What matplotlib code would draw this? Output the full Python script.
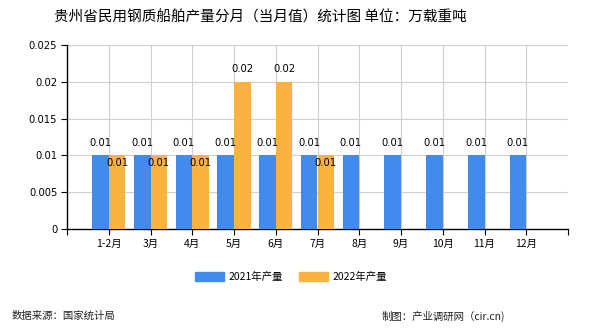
import matplotlib
matplotlib.use("Agg")
import matplotlib.pyplot as plt
import numpy as np
from matplotlib.patches import Patch

plt.rcParams['font.family'] = ['Noto Sans CJK SC', 'DejaVu Sans']

categories = ["1-2月", "3月", "4月", "5月", "6月", "7月", "8月", "9月", "10月", "11月", "12月"]
values_2021 = [0.01, 0.01, 0.01, 0.01, 0.01, 0.01, 0.01, 0.01, 0.01, 0.01, 0.01]
values_2022 = [0.01, 0.01, 0.01, 0.02, 0.02, 0.01]
series_names = ["2021年产量", "2022年产量"]
yticks = [0, 0.005, 0.01, 0.015, 0.02, 0.025]
ytick_labels = ["0", "0.005", "0.01", "0.015", "0.02", "0.025"]

c_blue = "#428BEC"
c_orange = "#FCB241"

fig = plt.figure(figsize=(5.9, 3.3), dpi=100)
ax = fig.add_axes([67/590, 1-229/330, (568-67)/590, (229-45)/330])

x = np.arange(len(categories))
w = 0.4
ax.bar(x[:len(values_2021)] - w/2, values_2021, width=w, color=c_blue, zorder=3)
ax.bar(x[:len(values_2022)] + w/2, values_2022, width=w, color=c_orange, zorder=3)

lab_font = dict(family=['DejaVu Sans'], fontsize=7.2, color='black')
for i, v in enumerate(values_2021):
    ax.annotate(f"{v:g}", (x[i] - w/2, v), xytext=(0, 12), textcoords='offset pixels',
                ha='center', va='center', zorder=5, **lab_font)
for i, v in enumerate(values_2022):
    if i < len(values_2021) and abs(values_2021[i] - v) < 1e-12:
        off = -8
    else:
        off = 13
    ax.annotate(f"{v:g}", (x[i] + w/2, v), xytext=(0, off), textcoords='offset pixels',
                ha='center', va='center', zorder=5, **lab_font)

ax.set_xlim(-1, len(categories))
ax.set_ylim(0, 0.025)
ax.set_yticks(yticks)
ax.set_yticklabels(ytick_labels, fontsize=7.2, family=['DejaVu Sans'])
ax.set_xticks(x)
ax.set_xticklabels(categories, fontsize=7.5)
ax.set_xticks([-1, len(categories)], minor=True)

# gridlines
for yv in yticks[1:]:
    ax.axhline(yv, color='#d0d0d0', lw=0.8, zorder=1)
for xv in list(x) + [len(categories)]:
    ax.axvline(xv, color='#d0d0d0', lw=0.8, zorder=1)

for s in ['top', 'right']:
    ax.spines[s].set_visible(False)
ax.spines['left'].set_color('black')
ax.spines['bottom'].set_color('black')
ax.spines['left'].set_linewidth(1)
ax.spines['bottom'].set_linewidth(1)
ax.tick_params(axis='both', which='both', length=4, width=0.8, color='black', pad=3)

fig.text(260/590, 1-17/330, "贵州省民用钢质船舶产量分月（当月值）统计图 单位：万载重吨",
         ha='center', va='center', fontsize=10.5)

handles = [Patch(color=c_blue, label=series_names[0]), Patch(color=c_orange, label=series_names[1])]
fig.legend(handles=handles, loc='center', bbox_to_anchor=(291/590, 1-277/330), ncol=2,
           frameon=False, fontsize=7.5, handlelength=2.8, handleheight=1.0,
           columnspacing=1.6, handletextpad=0.4)

fig.text(12/590, 1-316/330, "数据来源：国家统计局", ha='left', va='center', fontsize=7.5, color='#222222')
fig.text(505/590, 1-316/330, "制图：产业调研网（cir.cn)", ha='right', va='center', fontsize=7.5, color='#222222')

fig.savefig("out.png", dpi=100)
